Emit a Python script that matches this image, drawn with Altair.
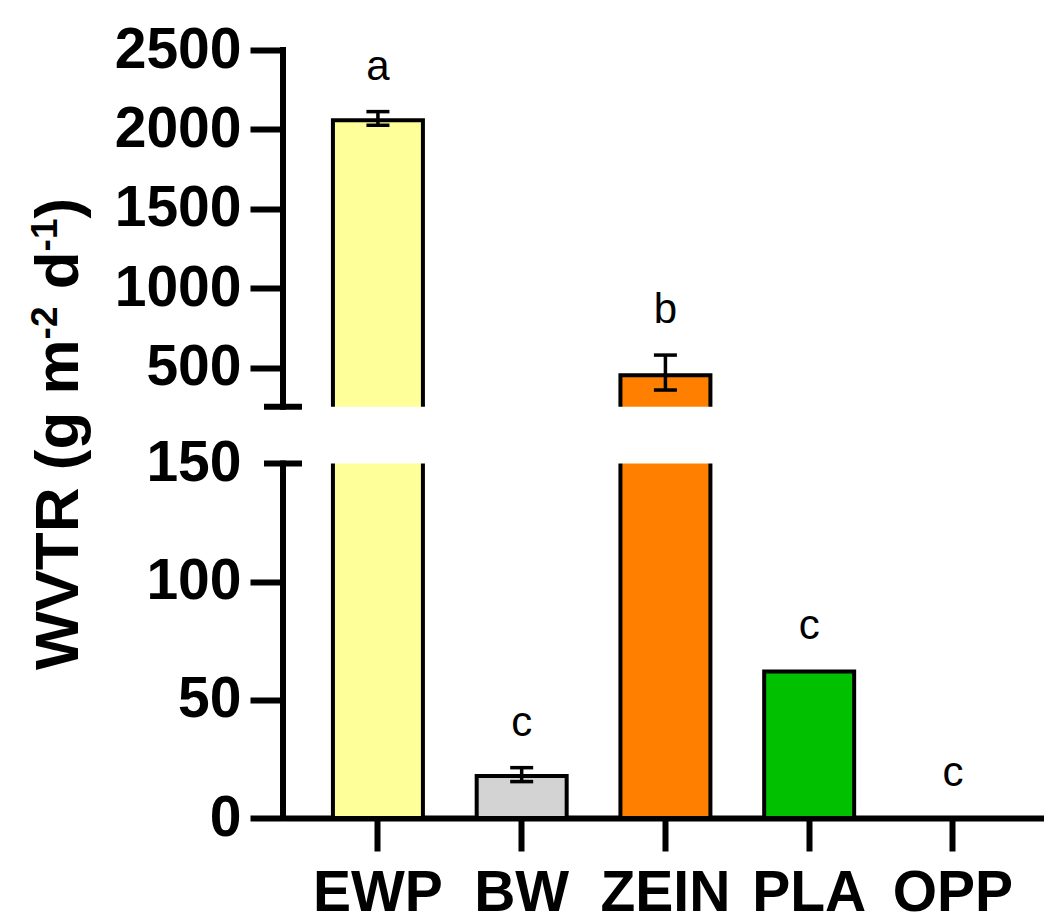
import altair as alt
import pandas as pd

# ---- data ----
cats = ["EWP", "BW", "ZEIN", "PLA", "OPP"]
means = [2057, 17.8, 452, 62, 0]
err_lo = [2026, 15.4, 359, None, None]
err_hi = [2112, 21.3, 579, None, None]
letters = ["a", "c", "b", "c", "c"]
colors = ["#FFFF99", "#D3D3D3", "#FF8000", "#00C000", "#FFFFFF"]
y_ticks = [0, 50, 100, 150, 500, 1000, 1500, 2000, 2500]
seg_lo = [0, 254]
seg_hi = [150, 2500]
breaks = [150, 254]

W, H = 761, 768
FONT = "Liberation Sans"
AXW = 6

df = pd.DataFrame({"cat": cats, "mean": means, "lo": err_lo, "hi": err_hi,
                   "letter": letters})

yscale = alt.Scale(domain=[0, 150, 254, 2500], range=[H, 413.5, 356.7, 0],
                   nice=False, zero=False)

y_axis = alt.Axis(values=y_ticks, title=None, domain=False, grid=False,
                  format="d",
                  tickSize=33, tickWidth=AXW, tickColor="black",
                  labelFont=FONT, labelFontSize=57, labelFontWeight="bold",
                  labelColor="black", labelPadding=9, labelOverlap=False,
                  labelFlush=False,
                  tickOpacity={"condition": {"test": "datum.value == 150", "value": 0},
                               "value": 1})

x_axis = alt.Axis(title=None, domainWidth=AXW, domainColor="black", tickSize=33,
                  tickWidth=AXW, tickColor="black", labelFont=FONT,
                  labelFontSize=57, labelFontWeight="bold", labelColor="black",
                  labelPadding=14, labelAngle=0, grid=False)

xenc = alt.X("cat:N", sort=cats,
             scale=alt.Scale(paddingInner=0.374, paddingOuter=0.334, align=0.52),
             axis=x_axis)

def yenc(field):
    return alt.Y(field, scale=yscale, axis=y_axis)

bars = alt.Chart(df).mark_bar(stroke="black", strokeWidth=4).encode(
    x=xenc,
    y=yenc("mean:Q"),
    y2=alt.datum(0),
    color=alt.Color("cat:N", scale=alt.Scale(domain=cats, range=colors), legend=None),
)

gap = alt.Chart(alt.Data(values=[{"a": breaks[0], "b": breaks[1]}])).mark_rect(
    color="white").encode(
    x=alt.value(4), x2=alt.value(W), y=yenc("a:Q"), y2="b:Q")

err = alt.Chart(df).transform_filter("isValid(datum.hi)")
err_line = err.mark_rule(strokeWidth=3.5, color="black").encode(
    x=xenc, y=yenc("lo:Q"), y2="hi:Q")
cap_lo = err.mark_tick(thickness=3.5, size=23, color="black", opacity=1).encode(
    x=xenc, y=yenc("lo:Q"))
cap_hi = err.mark_tick(thickness=3.5, size=23, color="black", opacity=1).encode(
    x=xenc, y=yenc("hi:Q"))

axis_rules = alt.Chart(alt.Data(values=[{"lo": a, "hi": b} for a, b in zip(seg_lo, seg_hi)])
                       ).mark_rule(strokeWidth=AXW, color="black", strokeCap="square").encode(
    x=alt.value(0), y=yenc("lo:Q"), y2="hi:Q")

break_marks = alt.Chart(alt.Data(values=[{"v": v} for v in breaks])).mark_rule(
    strokeWidth=AXW, color="black").encode(
    x=alt.value(-19), x2=alt.value(19), y=yenc("v:Q"))

labels = alt.Chart(df).transform_calculate(
    top="isValid(datum.hi) ? datum.hi : datum.mean"
).mark_text(font=FONT, fontSize=42, dy=-32, baseline="alphabetic",
            color="black").encode(
    x=xenc, y=yenc("top:Q"), text="letter:N")

# y title built from pieces so that the exponents are raised
title_parts = [
    ("WVTR (g m", 62, -205, 620),
    ("-2", 37, -226, 289.4),
    ("d", 62, -205, 239.3),
    ("-1", 37, -226, 201.4),
    (")", 62, -205, 168.5),
]
title_layers = []
for txt, fs, xv, yv in title_parts:
    title_layers.append(
        alt.Chart(alt.Data(values=[{"t": txt}])).mark_text(
            angle=270, align="left", baseline="alphabetic", font=FONT,
            fontWeight="bold", fontSize=fs, color="black").encode(
            x=alt.value(xv), y=alt.value(yv), text="t:N")
    )

chart = alt.layer(bars, gap, err_line, cap_lo, cap_hi, axis_rules, break_marks,
                  labels, *title_layers).properties(
    width=W, height=H,
    autosize=alt.AutoSizeParams(type="none"),
    padding={"left": 283, "top": 50, "right": 0, "bottom": 101},
    background="white",
).configure_view(stroke=None)

chart.save("out.html", embed_options={"renderer": "svg", "actions": False})
